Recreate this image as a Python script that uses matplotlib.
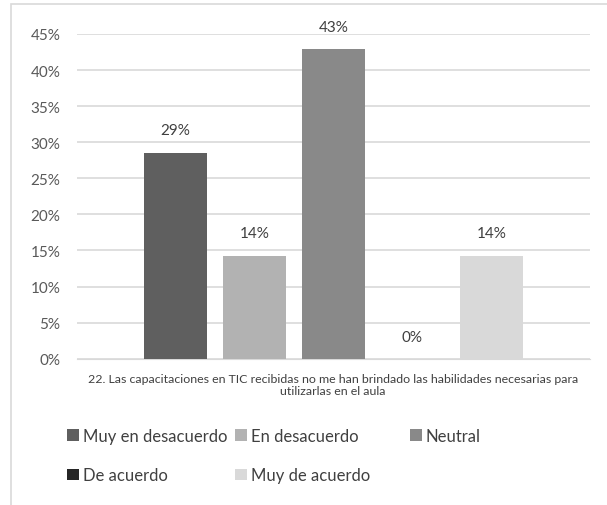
import matplotlib.pyplot as plt
from matplotlib.patches import Rectangle

# Survey answers for item 22
categories = ['Muy en desacuerdo', 'En desacuerdo', 'Neutral', 'De acuerdo', 'Muy de acuerdo']
values = [0.2857, 0.1429, 0.4286, 0.0, 0.1429]
labels = ['29%', '14%', '43%', '0%', '14%']
colors = ['#5f5f5f', '#b2b2b2', '#898989', '#262626', '#d9d9d9']
question = ('22. Las capacitaciones en TIC recibidas no me han brindado las habilidades necesarias para\n'
            'utilizarlas en el aula')
yticks = [0, 0.05, 0.10, 0.15, 0.20, 0.25, 0.30, 0.35, 0.40, 0.45]

plt.rcParams['font.family'] = ['Lato', 'DejaVu Sans']

fig = plt.figure(figsize=(6.07, 5.06), dpi=100)
ax = fig.add_axes([0.127, 0.289, 0.845, 0.642])

# light frame around the chart area
fig.patches.append(Rectangle((0.0175, -0.05), 1.1, 1.04, transform=fig.transFigure,
                             fill=False, edgecolor='#d9d9d9', linewidth=1.2))

offsets = [-2, -1, 0, 1, 2]
bars = []
for off, v, c, name, lab in zip(offsets, values, colors, categories, labels):
    b = ax.bar(off, v, width=0.8, color=c, label=name, zorder=3)
    bars.append(b)
    ax.annotate(lab, (off, v), xytext=(0, 16), textcoords='offset points',
                ha='center', va='center', fontsize=11, color='#404040')

ax.set_ylim(0, 0.45)
ax.set_xlim(-3.25, 3.25)
ax.set_yticks(yticks)
ax.set_yticklabels([f'{int(round(t * 100))}%' for t in yticks], fontsize=11, color='#595959')
ax.set_xticks([])
ax.grid(axis='y', color='#d9d9d9', linewidth=1.2, zorder=0)
for s in ax.spines.values():
    s.set_visible(False)
ax.spines['bottom'].set_visible(True)
ax.spines['bottom'].set_color('#d9d9d9')
ax.tick_params(axis='y', length=0, pad=12)

fig.text(0.549, 0.238, question, ha='center', va='center', fontsize=8.9,
         color='#404040', linespacing=1.15)

# legend laid out row-wise in equal-width columns (one legend per column)
columns = [[0, 3], [1, 4], [2]]
col_x = [67, 235, 410]
for idx, x in zip(columns, col_x):
    leg = fig.legend([bars[i] for i in idx], [categories[i] for i in idx],
                     ncol=1, loc='upper left', bbox_to_anchor=(x / 607, 1 - 429 / 506),
                     frameon=False, fontsize=12, handlelength=0.7, handleheight=0.7,
                     handletextpad=0.25, labelspacing=1.4,
                     borderaxespad=0, borderpad=0)
    for t in leg.get_texts():
        t.set_color('#404040')

plt.savefig('out.png', dpi=100)
